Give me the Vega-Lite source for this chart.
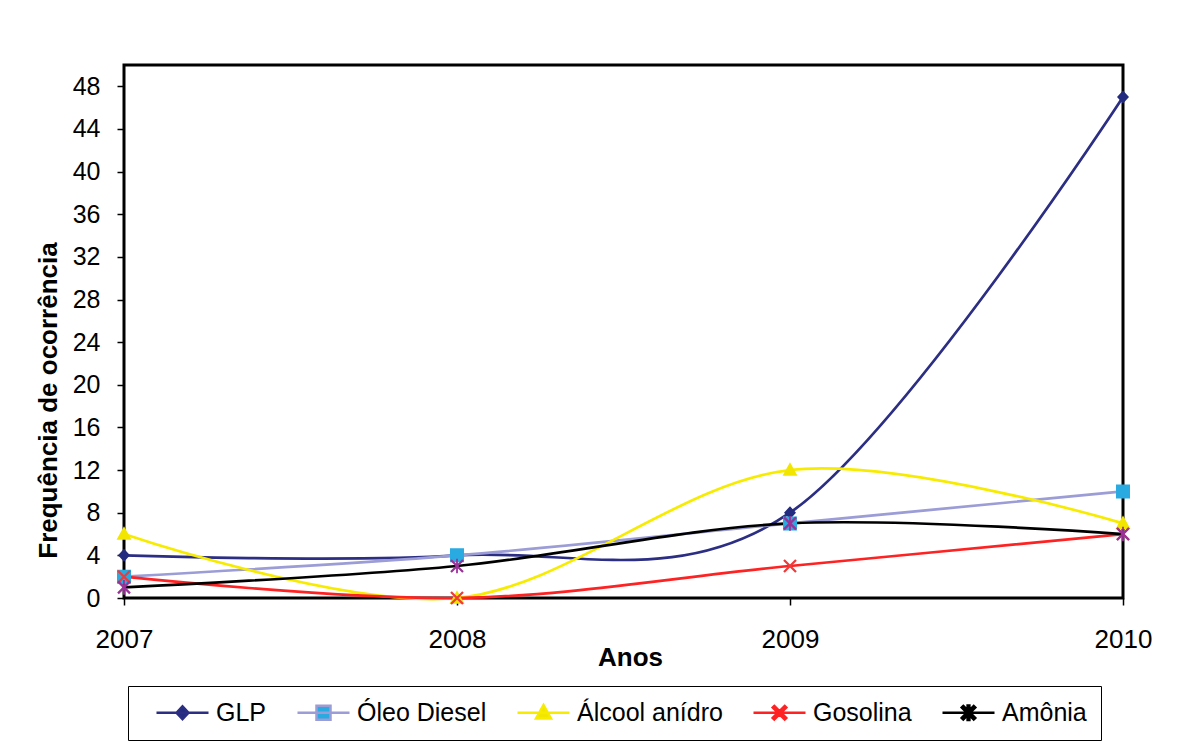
{
  "$schema": "https://vega.github.io/schema/vega-lite/v6.json",
  "autosize": "none",
  "width": 999,
  "height": 533,
  "padding": {"left": 124, "top": 65, "right": 55, "bottom": 151},
  "background": "white",
  "config": {
    "font": "Liberation Sans",
    "view": {"stroke": "#000000", "strokeWidth": 3},
    "axis": {"grid": false, "domain": false, "tickColor": "#000000", "tickWidth": 1.5, "tickSize": 7, "labelColor": "#000000", "labelFont": "Liberation Sans", "titleFont": "Liberation Sans", "titleColor": "#000000", "titleFontWeight": "bold", "titleFontSize": 26}
  },
  "data": {"values": [
    {"year": 2007, "series": "GLP", "value": 4},
    {"year": 2008, "series": "GLP", "value": 4},
    {"year": 2009, "series": "GLP", "value": 8},
    {"year": 2010, "series": "GLP", "value": 47},
    {"year": 2007, "series": "Óleo Diesel", "value": 2},
    {"year": 2008, "series": "Óleo Diesel", "value": 4},
    {"year": 2009, "series": "Óleo Diesel", "value": 7},
    {"year": 2010, "series": "Óleo Diesel", "value": 10},
    {"year": 2007, "series": "Álcool anídro", "value": 6},
    {"year": 2008, "series": "Álcool anídro", "value": 0},
    {"year": 2009, "series": "Álcool anídro", "value": 12},
    {"year": 2010, "series": "Álcool anídro", "value": 7},
    {"year": 2007, "series": "Gosolina", "value": 2},
    {"year": 2008, "series": "Gosolina", "value": 0},
    {"year": 2009, "series": "Gosolina", "value": 3},
    {"year": 2010, "series": "Gosolina", "value": 6},
    {"year": 2007, "series": "Amônia", "value": 1},
    {"year": 2008, "series": "Amônia", "value": 3},
    {"year": 2009, "series": "Amônia", "value": 7},
    {"year": 2010, "series": "Amônia", "value": 6}
  ]},
  "encoding": {
    "x": {"field": "year", "type": "quantitative", "scale": {"domain": [2007, 2010], "nice": false, "zero": false},
      "axis": {"values": [2007, 2008, 2009, 2010], "format": "d", "title": "Anos", "labelFontSize": 26, "labelBaseline": "alphabetic", "labelPadding": 42, "labelFlush": false, "titleX": 506, "titleY": 67, "titleBaseline": "alphabetic", "titleAnchor": null, "titleAlign": "center"}},
    "y": {"field": "value", "type": "quantitative", "scale": {"domain": [0, 50], "nice": false},
      "axis": {"values": [0, 4, 8, 12, 16, 20, 24, 28, 32, 36, 40, 44, 48], "title": "Frequência de ocorrência", "labelFontSize": 25, "labelPadding": 17, "titleX": -68, "titleY": 335, "titleBaseline": "alphabetic", "titleAlign": "center", "titleAngle": 270}}
  },
  "layer": [
    {
      "mark": {"type": "line", "interpolate": "cardinal", "tension": 0, "strokeWidth": 2.7},
      "encoding": {
        "stroke": {"field": "series", "type": "nominal", "title": null,
          "scale": {"domain": ["GLP", "Óleo Diesel", "Álcool anídro", "Gosolina", "Amônia"], "range": ["#2B2E83", "#9C9CD6", "#F7EC00", "#FF2222", "#000000"]},
          "legend": {"orient": "none", "legendX": 4, "legendY": 621, "direction": "horizontal", "strokeColor": "#000000", "fillColor": "white", "padding": 14, "symbolOffset": 28, "symbolSize": 400, "symbolStrokeWidth": 2.5, "labelFont": "Liberation Sans", "labelFontSize": 25, "labelColor": "#000000", "labelOffset": 21, "columnPadding": 16}}
      }
    },
    {
      "mark": {"type": "point", "filled": true, "size": 400, "opacity": 1},
      "encoding": {
        "fill": {"field": "series", "type": "nominal", "title": null,
          "scale": {"domain": ["GLP", "Óleo Diesel", "Álcool anídro", "Gosolina", "Amônia"], "range": ["#232C7E", "#29ABE2", "#F2E600", "#F03A3A", "#993399"]},
          "legend": {"orient": "none", "legendX": 4, "legendY": 621, "direction": "horizontal", "strokeColor": "#000000", "fillColor": "white", "padding": 14, "symbolOffset": 28, "symbolSize": 400, "symbolStrokeWidth": 2.5, "labelFont": "Liberation Sans", "labelFontSize": 25, "labelColor": "#000000", "labelOffset": 21, "columnPadding": 16}},
        "shape": {"field": "series", "type": "nominal", "title": null,
          "scale": {"domain": ["GLP", "Óleo Diesel", "Álcool anídro", "Gosolina", "Amônia"], "range": [
            "M-2.6,0H2.6M-0.6,0L0,-0.65L0.6,0L0,0.65Z",
            "M-2.6,0H2.6M-0.7,-0.7H0.7V0.7H-0.7Z",
            "M-2.6,0H2.6M-0.75,0.57L0.75,0.57L0,-0.78Z",
            "M-2.6,0H2.6M-0.52,-0.68L0.68,0.52L0.52,0.68L-0.68,-0.52ZM-0.68,0.52L0.52,-0.68L0.68,-0.52L-0.52,0.68Z",
            "M-2.6,0H2.6M-0.52,-0.68L0.68,0.52L0.52,0.68L-0.68,-0.52ZM-0.68,0.52L0.52,-0.68L0.68,-0.52L-0.52,0.68ZM-0.09,-0.73H0.09V0.73H-0.09Z"
          ]},
          "legend": {"orient": "none", "legendX": 4, "legendY": 621, "direction": "horizontal", "strokeColor": "#000000", "fillColor": "white", "padding": 14, "symbolOffset": 28, "symbolSize": 400, "symbolStrokeWidth": 2.5, "labelFont": "Liberation Sans", "labelFontSize": 25, "labelColor": "#000000", "labelOffset": 21, "columnPadding": 16}}
      }
    }
  ]
}
